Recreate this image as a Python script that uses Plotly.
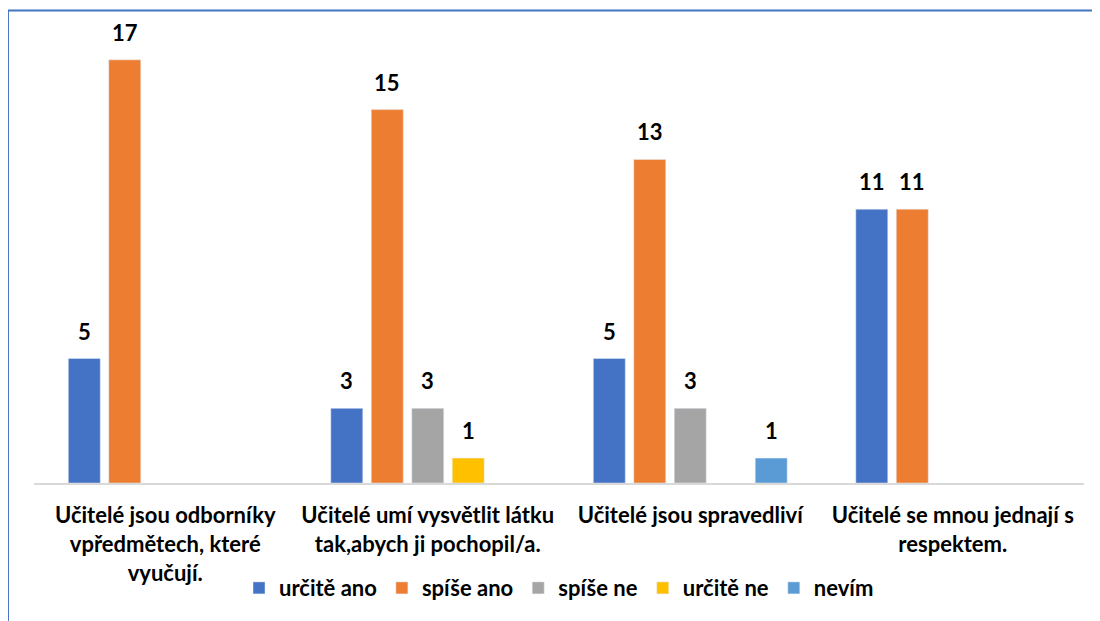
import plotly.graph_objects as go

categories = [
    "Učitelé jsou odborníky<br>vpředmětech, které<br>vyučují.",
    "Učitelé umí vysvětlit látku<br>tak,abych ji pochopil/a.",
    "Učitelé jsou spravedliví",
    "Učitelé se mnou jednají s<br>respektem.",
]
series_names = ["určitě ano", "spíše ano", "spíše ne", "určitě ne", "nevím"]
urcite_ano = [5, 3, 5, 11]
spise_ano = [17, 15, 13, 11]
spise_ne = [None, 3, 3, None]
urcite_ne = [None, 1, None, None]
nevim = [None, None, 1, None]
colors = ["#4472C4", "#ED7D31", "#A5A5A5", "#FFC000", "#5B9BD5"]

FONT = "Lato"
SIZE = 22
BARGAP = 0.229
all_series = [urcite_ano, spise_ano, spise_ne, urcite_ne, nevim]
n = len(all_series)

fig = go.Figure()
for name, vals, col in zip(series_names, all_series, colors):
    fig.add_trace(go.Bar(name=name, x=list(range(len(categories))), y=vals,
                         marker_color=col))

# data labels
slot = (1 - BARGAP) / n
annotations = []
for k, vals in enumerate(all_series):
    for i, v in enumerate(vals):
        if v:
            annotations.append(dict(
                x=i - (1 - BARGAP) / 2 + (k + 0.5) * slot, y=v,
                xref="x", yref="y", text=f"<b>{v}</b>", showarrow=False,
                yanchor="bottom", yshift=12,
                font=dict(family=FONT, size=SIZE, color="black")))

fig.update_layout(
    barmode="group", bargap=BARGAP, bargroupgap=0.21,
    width=1100, height=621,
    margin=dict(l=26, r=24, t=12, b=146),
    paper_bgcolor="white", plot_bgcolor="white",
    font=dict(family=FONT, size=SIZE, color="black"),
    xaxis=dict(showline=True, linecolor="#D9D9D9", linewidth=2,
               ticks="", ticklabelstandoff=12,
               tickmode="array", tickvals=list(range(len(categories))),
               ticktext=categories, range=[-0.5, len(categories) - 0.5],
               tickfont=dict(family=FONT, size=SIZE, color="black", weight="bold")),
    yaxis=dict(range=[0, 18.6], visible=False, showgrid=False),
    showlegend=True,
    legend=dict(orientation="h", x=0.5, xanchor="center", y=-0.227, yanchor="middle",
                font=dict(family=FONT, size=SIZE, color="black", weight="bold"),
                itemwidth=30, traceorder="normal"),
    annotations=annotations,
    shapes=[dict(type="path", xref="paper", yref="paper",
                 path="M -0.0248,-0.4 L -0.0248,1.0205 L 1.1,1.0205",
                 line=dict(color="#4472C4", width=2))],
)
fig.write_html("out.html")
